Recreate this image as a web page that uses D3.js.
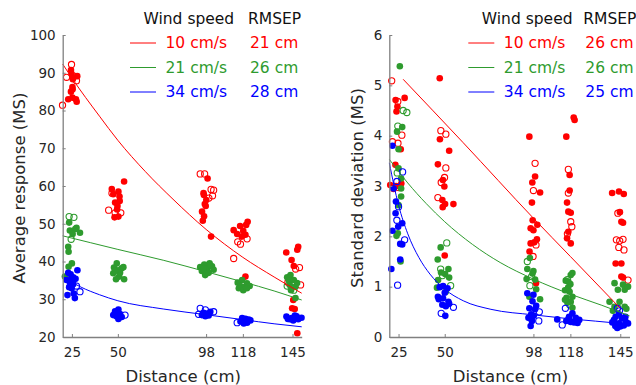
<!DOCTYPE html>
<html lang="en">
<head>
<meta charset="UTF-8">
<title>Response vs distance</title>
<script src="https://cdn.jsdelivr.net/npm/d3@7"></script>
<style>
  body { margin: 0; background: #fff; }
  svg text { font-family: "DejaVu Sans", Verdana, sans-serif; }
</style>
</head>
<body>
<svg id="chart" width="636" height="385"></svg>
<script>
// categories and labels
const distanceTicks = [25, 50, 98, 118, 145];
const speedLabels = ["10 cm/s", "21 cm/s", "34 cm/s"];
const seriesColors = ["#ff0000", "#2e9b2e", "#0000ff"];
const rmsepMean = ["21 cm", "26 cm", "28 cm"];
const rmsepSd = ["26 cm", "26 cm", "25 cm"];
const meanTicks = [20, 30, 40, 50, 60, 70, 80, 90, 100];
const sdTicks = [0, 1, 2, 3, 4, 5, 6];

// points: [distance (jittered), value, filled?]
const meanRed = [
  [24.8,92.2,0],[24.5,90.7,1],[22.1,88.8,0],[24.8,89.7,1],[26.1,89.1,0],[27.9,89.1,1],[27.5,87.9,0],[25.5,88.3,1],
  [25.3,86.2,1],[24.5,85.0,1],[25.4,85.6,1],[23.0,83.0,1],[25.3,83.4,1],[27.2,83.0,1],[27.6,82.3,1],[19.9,81.4,0],
  [46.7,59.2,1],[53.4,61.2,1],[50.3,58.5,1],[50.9,57.2,1],[46.8,58.1,0],[48.5,55.6,1],[49.8,54.7,1],[51,56,1],
  [45,53.6,0],[48.5,52.9,0],[51.6,52.9,0],[49.6,53.8,1],[48.2,51.7,1],[50.3,51.9,1],[47.5,57.8,1],
  [94.8,63.2,0],[97.2,63.2,0],[98.8,62.0,1],[100.7,59.1,0],[102.1,58.9,0],[96.6,58.1,1],[96.8,57.6,1],[101.5,57.4,0],
  [98.1,56.3,1],[97.3,55.2,1],[97.8,54.7,1],[99.5,56.8,0],[95.8,53.2,1],[96.9,52.0,1],[96.2,50.8,1],[100.7,46.6,1],
  [120.6,50.5,1],[119.8,49.7,1],[113,48.3,1],[116.5,49.4,1],[118.2,48.1,1],[114.9,47.3,1],[119.4,47.1,1],[117.4,46.6,1],
  [120.3,46.0,0],[115.2,45.2,0],[116.7,44.6,0],[113,40.8,0],[119.4,36.0,1],
  [141.6,42.4,1],[148.1,43.9,1],[147.6,43.1,1],[144.5,40.4,1],[145.7,38.8,1],[148.8,38.4,0],[146.7,38.0,0],
  [145.4,29.8,1],[144.8,27.6,1],[146.2,27.4,1],[147.6,21.0,1],[149.4,33.8,0],[142.5,34.5,0]
];
const meanGreen = [
  [23.5,51.9,0],[26.1,51.7,0],[23.5,50.3,1],[23.9,48.2,1],[26.8,48.6,1],[29.4,47.6,1],[25.4,47.3,1],[24.6,45.9,0],
  [23.0,43.9,1],[23.2,42.6,1],[25.0,39.5,1],[23.2,38.6,1],[21.2,36.0,1],[27.5,48.9,1],
  [49.4,39.5,1],[47.9,38.4,1],[52.1,38.2,1],[50.1,37.7,1],[47.5,36.9,1],[50.7,36.0,1],[53.4,35.3,1],[49.0,35.3,1],
  [51.2,37.0,1],[53.0,38.5,1],[48.5,37.5,1],
  [94.8,38.5,1],[97,39.2,1],[99.9,39.5,1],[98.5,38.0,1],[101.2,38.7,1],[95.7,37.5,1],[97.5,36.4,1],[102.1,37.8,1],
  [99.4,37.0,1],[96.6,38.2,1],[100.3,39.0,1],
  [117.6,35.1,1],[115.2,34.4,1],[120.2,34.2,1],[116.6,33.5,1],[118.8,33.2,1],[121.7,33.5,1],[115.8,32.9,1],
  [118.2,32.4,1],[120.2,32.9,1],
  [142.1,35.8,1],[143.9,36.4,1],[145.7,35.1,1],[143.5,33.8,1],[146.6,33.3,1],[142.1,33.5,0],[145.7,32.4,0],
  [144.2,32.4,1],[147.5,34.3,1],[146.6,30.3,1],[143,35.0,1],[145.7,34.5,0]
];
const meanBlue = [
  [23.0,37.0,1],[24.3,36.6,1],[28.0,37.7,1],[25.7,35.8,1],[27,35.4,1],[22.1,35.1,1],[23.9,34.5,1],[25.7,34.0,1],
  [27.5,33.5,0],[23.5,33.2,1],[24.9,32.9,1],[29.4,32.0,0],[22.6,31.1,1],[26,31.5,1],[26.6,30.3,1],[24.5,35.2,1],
  [50.3,27.3,1],[48.5,26.3,1],[51.2,26.1,1],[49.4,25.4,1],[53.9,25.8,0],[47.5,25.8,1],[50.3,24.8,1],[52.1,25.3,1],[48.5,26.8,1],
  [94.8,27.6,0],[97.6,27.2,0],[96.6,26.4,1],[98.5,26.2,1],[100.3,26.7,1],[102.1,26.7,0],[93.9,26.0,0],[95.7,25.8,1],
  [99.4,25.7,1],[97.6,25.5,1],
  [114.9,23.8,0],[117.6,25.0,1],[119.4,24.8,1],[121.2,24.6,1],[116.7,24.1,1],[118.5,23.6,1],[120.3,23.8,1],[122.1,24.4,1],
  [141.7,25.4,1],[144.5,25.0,1],[146.3,25.7,1],[148.1,24.7,1],[149.9,25.1,1],[143.6,24.7,1],[145.4,24.4,1],
  [147.2,25.5,1],[142.5,24.8,1]
];

const sdRed = [
  [21.3,5.09,0],[23.4,4.71,1],[28.3,4.75,1],[24.6,4.68,0],[24.4,4.58,1],[23.9,4.48,1],[26.8,4.01,0],[21.7,3.88,0],
  [24.7,3.85,0],[26.2,3.73,1],[23.3,3.42,1],[20.5,3.02,1],[23.7,3.0,1],[22.3,2.94,1],[26.5,3.05,1],[25.2,2.97,0],
  [47.3,5.14,1],[47.9,4.10,0],[50.6,4.03,0],[47.4,3.93,1],[52.4,3.70,1],[46.3,3.43,1],[50.6,3.36,0],[49.0,3.12,1],
  [48.1,3.07,0],[49.9,3.17,0],[49.8,2.99,1],[46.3,2.77,0],[48.7,2.72,1],[50.2,2.64,1],[54.7,2.64,1],[48.9,2.58,1],[50.0,1.62,1],
  [95.8,3.98,1],[98.9,3.45,0],[98.9,3.19,1],[97.4,3.07,1],[98.0,2.91,0],[101.6,2.87,1],[97.2,2.67,1],[97.6,2.32,1],
  [100.1,2.23,1],[96.5,2.16,1],[98,2.12,1],[99.9,1.94,1],[96.5,1.86,1],[99.4,1.83,0],[98.5,1.88,1],[97.8,1.60,0],
  [95.9,1.70,1],[99.4,1.07,1],
  [119.8,4.36,1],[120.3,4.31,1],[115.8,3.98,1],[116.9,3.33,0],[117.6,3.22,1],[117.6,2.91,1],[116.9,2.86,0],[116.2,2.67,1],
  [116.9,2.49,1],[118.2,2.47,1],[118.2,2.29,0],[118.8,2.19,0],[116.9,2.09,1],[116.4,2.05,0],[116.2,1.96,1],[118.2,1.86,1],
  [140.6,2.86,1],[144.3,2.89,1],[146.9,2.84,1],[143.7,2.46,0],[144.8,2.48,1],[145.6,2.29,1],[146.5,2.27,1],[142.9,1.93,0],
  [146.5,1.94,0],[144.7,1.91,0],[147.0,1.73,0],[144.2,1.78,0],[142.5,1.46,1],[145.6,1.46,1],[145.6,1.20,1],[146.5,1.18,1],[149.2,1.13,0]
];
const sdGreen = [
  [25.7,5.38,1],[27.5,4.50,0],[29.5,4.46,0],[24.6,4.19,0],[27.0,4.17,1],[24.2,4.08,1],[25.0,3.73,1],[25.0,3.35,1],
  [24.3,3.26,0],[26.4,3.15,1],[26.4,2.95,1],[26.4,2.79,1],[25.0,2.62,1],[24.6,2.06,1],[23.9,2.01,1],[26.1,1.50,1],
  [51.1,1.87,0],[47.8,1.78,1],[46.2,1.54,1],[47.8,1.35,0],[52.0,1.35,1],[50.2,1.25,1],[48.8,1.22,0],[52.4,1.18,1],
  [46.4,1.13,1],[45.8,0.98,1],[53.2,1.02,0],[50.6,0.90,1],[48.0,1.28,1],
  [94.7,1.50,0],[96.1,1.57,1],[94.7,1.35,1],[98.0,1.31,1],[97.0,1.20,0],[94.3,1.15,1],[98.9,1.14,1],[96.1,1.02,0],
  [95.8,0.80,1],[101.6,0.75,1],[97.5,1.26,1],[99.5,0.95,1],
  [119.1,1.27,1],[118.2,1.23,1],[116.9,1.10,1],[115.5,1.12,1],[116.4,1.14,0],[118.0,1.05,1],[115.1,0.93,1],[117.6,0.90,1],
  [119.1,0.80,1],[115.9,0.78,1],[118.2,0.70,1],[116.4,0.68,1],[115.1,0.74,1],[117.6,0.64,0],[119.1,0.58,1],[116.8,0.98,1],
  [141.9,1.07,1],[146.5,1.04,1],[143.7,0.94,1],[147.4,0.94,1],[149.2,1.00,1],[139.2,0.70,1],[141.9,0.60,1],[144.6,0.70,1],
  [147.4,0.60,1],[143.7,0.58,0],[141.0,0.52,1],[148.3,0.56,1]
];
const sdBlue = [
  [21.7,3.80,1],[27.2,3.28,0],[24.1,3.09,0],[22.3,2.95,1],[23.6,2.69,1],[25.0,2.59,0],[23.4,2.46,1],[24.1,2.32,0],
  [27.0,2.26,1],[24.8,2.19,1],[21.7,2.11,1],[28.3,1.93,0],[25.9,1.85,1],[27.0,1.84,1],[25.9,1.54,1],[21.1,1.35,1],[24.5,1.03,0],
  [49.1,1.01,1],[51.5,0.97,1],[47.3,0.99,1],[46.3,0.80,1],[49.1,0.77,1],[48.7,0.64,1],[50.6,0.61,1],[54.7,0.59,0],
  [52.4,0.66,1],[48.1,0.47,0],[50.3,0.42,1],[46.8,0.75,1],[50.0,0.88,1],[52,0.70,1],
  [94.7,0.87,1],[98.0,0.84,1],[97.5,0.71,1],[95.8,0.57,1],[98.9,0.55,1],[101.2,0.50,0],[96.8,0.45,1],[98.2,0.42,1],
  [100.9,0.32,0],[97.2,0.32,1],[96.5,0.22,1],[95.3,0.38,1],[99.5,0.62,1],
  [115.3,0.57,0],[119.1,0.47,1],[117.3,0.40,1],[120.9,0.38,1],[122.8,0.34,1],[118.2,0.30,1],[113.6,0.24,0],[115.8,0.32,1],
  [120.0,0.29,1],[110.9,0.35,1],[121.9,0.28,1],[117.0,0.36,1],
  [143.4,0.57,0],[144.3,0.45,1],[142.5,0.40,1],[141.6,0.34,1],[145.9,0.37,1],[144.3,0.27,1],[148.0,0.30,1],[142.3,0.22,1],
  [145.0,0.21,1],[146.9,0.23,1],[140.7,0.29,1],[149.2,0.27,1],[143.4,0.18,1],[147.8,0.40,1],[144.6,0.52,0]
];

// fitted curves: [distance, value]
const meanFitRed = [[20,92.3],[25,88.6],[40,78.5],[50,72.1],[65,63.8],[80,56.5],[98,48.5],[118,41.1],[135,35.9],[150,31.6]];
const meanFitGreen = [[20,46.8],[35,45.0],[50,43.2],[75,40.3],[98,37.3],[118,34.6],[135,32.2],[150,29.8]];
const meanFitBlue = [[20,36.0],[25,34.5],[30,33.2],[40,31.2],[50,29.6],[75,27.4],[98,25.9],[118,24.6],[135,23.5],[150,22.7]];
const sdFitRed = [[27.5,5.12],[60,3.86],[98,2.36],[118,1.6],[145,0.57]];
const sdFitGreen = [[20,3.53],[30,3.06],[40,2.65],[50,2.29],[65,1.84],[80,1.48],[98,1.15],[118,0.85],[135,0.63],[150,0.42]];
const sdFitBlue = [[20,3.46],[25,2.62],[30,2.05],[36,1.58],[42,1.25],[50,0.95],[60,0.72],[75,0.55],[98,0.44],[118,0.36],[145,0.27],[150,0.25]];

const svg = d3.select("#chart");
const axisGray = "#808080";
const textDark = "#262626";

function drawPanel(cfg) {
  const x = d3.scaleLinear().domain([20, 150]).range([cfg.left, cfg.right]);
  const y = d3.scaleLinear().domain(cfg.yDomain).range([337, 35]);
  const g = svg.append("g");

  // markers
  cfg.points.forEach((pts, i) => {
    g.append("g").selectAll("circle")
      .data(pts)
      .enter().append("circle")
      .attr("cx", d => x(d[0]))
      .attr("cy", d => y(d[1]))
      .attr("r", d => d[2] ? 3.3 : 3.1)
      .attr("fill", d => d[2] ? seriesColors[i] : "none")
      .attr("stroke", seriesColors[i])
      .attr("stroke-width", d => d[2] ? 0 : 1.1);
  });

  // fitted lines
  const line = d3.line().x(d => x(d[0])).y(d => y(d[1])).curve(d3.curveMonotoneX);
  cfg.fits.forEach((f, i) => {
    g.append("path").datum(f)
      .attr("d", line)
      .attr("fill", "none")
      .attr("stroke", seriesColors[i])
      .attr("stroke-width", 1);
  });

  // axes
  const xAxis = g.append("g").attr("transform", "translate(0,337)")
    .call(d3.axisBottom(x).tickValues(distanceTicks).tickFormat(d3.format("d"))
      .tickSizeInner(-3).tickSizeOuter(0).tickPadding(10));
  const yAxis = g.append("g").attr("transform", `translate(${cfg.left},0)`)
    .call(d3.axisLeft(y).tickValues(cfg.yTicks).tickFormat(d3.format("d"))
      .tickSizeInner(-3).tickSizeOuter(0).tickPadding(7));
  [xAxis, yAxis].forEach(a => {
    a.select(".domain").attr("stroke", axisGray).attr("stroke-width", 1.3);
    a.selectAll(".tick line").attr("stroke", axisGray);
    a.selectAll(".tick text").attr("fill", textDark).style("font-size", "13.5px")
      .style("font-family", "'DejaVu Sans', Verdana, sans-serif");
  });

  g.append("text")
    .attr("x", (cfg.left + cfg.right) / 2 + 1).attr("y", 382)
    .attr("text-anchor", "middle").attr("fill", textDark)
    .style("font-size", "16.5px").text("Distance (cm)");
  g.append("text")
    .attr("transform", `translate(${cfg.yLabelX},188) rotate(-90)`)
    .attr("text-anchor", "middle").attr("dy", "0.35em").attr("fill", textDark)
    .style("font-size", "16.5px").text(cfg.yLabel);

  // legend
  const lx = cfg.legendX;
  g.append("text").attr("x", lx + 13.5).attr("y", 19).attr("dy", "0.35em")
    .attr("fill", "#111").style("font-size", "15.5px").text("Wind speed");
  g.append("text").attr("x", lx + cfg.rmsepDx).attr("y", 19).attr("dy", "0.35em")
    .attr("fill", "#111").style("font-size", "15.5px").text("RMSEP");
  speedLabels.forEach((s, i) => {
    const yy = 43 + i * 24.5;
    g.append("line").attr("x1", lx).attr("x2", lx + 26).attr("y1", yy).attr("y2", yy)
      .attr("stroke", seriesColors[i]).attr("stroke-width", 1);
    g.append("text").attr("x", lx + 35.5).attr("y", yy).attr("dy", "0.35em")
      .attr("fill", seriesColors[i]).style("font-size", "15.5px").text(s);
    g.append("text").attr("x", lx + cfg.rmsepDx + 2).attr("y", yy).attr("dy", "0.35em")
      .attr("fill", seriesColors[i]).style("font-size", "15.5px").text(cfg.rmsep[i]);
  });
}

drawPanel({
  left: 62.7, right: 301.7, yDomain: [20, 100], yTicks: meanTicks,
  points: [meanRed, meanGreen, meanBlue],
  fits: [meanFitRed, meanFitGreen, meanFitBlue],
  yLabel: "Average response (MS)", yLabelX: 19,
  legendX: 130, rmsepDx: 118, rmsep: rmsepMean
});
drawPanel({
  left: 389.3, right: 629.5, yDomain: [0, 6], yTicks: sdTicks,
  points: [sdRed, sdGreen, sdBlue],
  fits: [sdFitRed, sdFitGreen, sdFitBlue],
  yLabel: "Standard deviation (MS)", yLabelX: 357,
  legendX: 468.3, rmsepDx: 115, rmsep: rmsepSd
});
</script>
</body>
</html>
